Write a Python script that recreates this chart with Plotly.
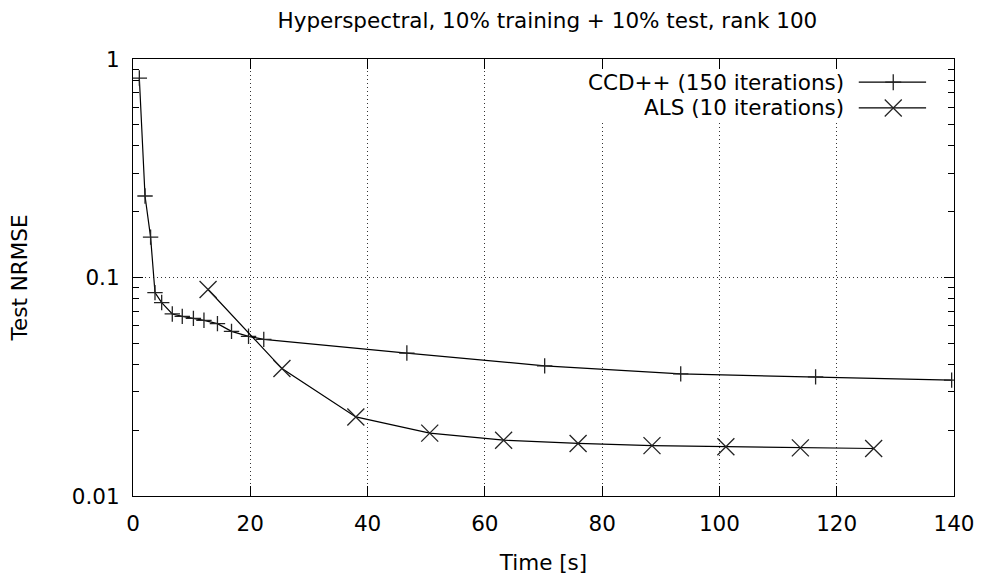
import plotly.graph_objects as go

# ---- data ----
ccd_time = [1.08, 2.05, 3.0, 3.75, 4.89, 6.7, 8.4, 10.3, 12.1, 14.4, 16.8, 19.7, 22.3,
            46.7, 70.2, 93.4, 116.4, 139.6]
ccd_nrmse = [0.818, 0.236, 0.153, 0.0853, 0.0768, 0.0681, 0.0664, 0.0650, 0.0637, 0.0615,
             0.0567, 0.0538, 0.0521, 0.0451, 0.0394, 0.0362, 0.0351, 0.0339]

als_time = [12.8, 25.4, 38.0, 50.6, 63.2, 75.9, 88.5, 101.1, 113.8, 126.3]
als_nrmse = [0.0881, 0.0383, 0.0230, 0.0194, 0.0180, 0.0174, 0.0170, 0.0168, 0.0166, 0.0165]

ccd_name = "CCD++ (150 iterations)"
als_name = "ALS (10 iterations)"
title_text = "Hyperspectral, 10% training + 10% test, rank 100"
x_title = "Time [s]"
y_title = "Test NRMSE"
x_ticks = [0, 20, 40, 60, 80, 100, 120, 140]
y_ticks = [0.01, 0.1, 1]
y_ticklabels = ["0.01", "0.1", "1"]

FONT = "DejaVu Sans"
FS = 21.5

fig = go.Figure()
fig.add_trace(go.Scatter(
    x=ccd_time, y=ccd_nrmse, mode="lines+markers", name=ccd_name,
    line=dict(color="black", width=1.2),
    marker=dict(symbol="cross-thin", size=11, color="#222",
                line=dict(color="#222", width=1.3)),
    showlegend=False))
fig.add_trace(go.Scatter(
    x=als_time, y=als_nrmse, mode="lines+markers", name=als_name,
    line=dict(color="black", width=1.2),
    marker=dict(symbol="x-thin", size=17, color="#222",
                line=dict(color="#222", width=1.3)),
    showlegend=False))

shapes = []
# legend background box (opaque, hides grid)
shapes.append(dict(type="rect", xref="paper", yref="paper", x0=0.530, x1=0.989,
                   y0=0.855, y1=0.976, fillcolor="white", line=dict(width=0),
                   layer="above"))
annotations = []
rows = [(0.947, ccd_name, "plus"), (0.888, als_name, "x")]
for ypos, label, kind in rows:
    annotations.append(dict(xref="paper", yref="paper", x=0.868, y=ypos, text=label,
                            showarrow=False, xanchor="right", yanchor="middle",
                            font=dict(family=FONT, size=FS, color="black")))
    shapes.append(dict(type="line", xref="paper", yref="paper", x0=0.884, x1=0.966,
                       y0=ypos, y1=ypos, line=dict(color="black", width=1.2),
                       layer="above"))
    if kind == "plus":
        segs = [(-8, 0, 8, 0), (0, -8, 0, 8)]
    else:
        segs = [(-8.5, -8.5, 8.5, 8.5), (-8.5, 8.5, 8.5, -8.5)]
    for (a, b, c, d) in segs:
        shapes.append(dict(type="line", xref="paper", yref="paper",
                           xsizemode="pixel", ysizemode="pixel",
                           xanchor=0.926, yanchor=ypos,
                           x0=a, y0=b, x1=c, y1=d,
                           line=dict(color="#222", width=1.3), layer="above"))

fig.update_layout(
    width=984, height=578,
    margin=dict(l=133, r=30, t=59, b=82),
    paper_bgcolor="white", plot_bgcolor="white",
    font=dict(family=FONT, size=FS, color="black"),
    title=dict(text=title_text, x=0.5563, xanchor="center", y=0.965, yanchor="middle",
               font=dict(family=FONT, size=FS, color="black")),
    shapes=shapes, annotations=annotations,
    showlegend=False,
)
fig.update_xaxes(
    range=[0, 140], tickvals=x_ticks, ticks="inside", ticklen=10, tickwidth=1,
    tickcolor="black", showline=True, linecolor="black", linewidth=1.2, mirror="allticks",
    showgrid=True, gridcolor="#333", griddash="1px,3px", gridwidth=1, zeroline=False,
    ticklabelstandoff=8, automargin=False,
    title=dict(text=x_title, font=dict(family=FONT, size=FS), standoff=20),
    tickfont=dict(family=FONT, size=FS),
)
fig.update_yaxes(
    type="log", range=[-2, 0], tickvals=y_ticks, ticktext=y_ticklabels,
    ticks="inside", ticklen=10, tickwidth=1, tickcolor="black",
    minor=dict(ticks="inside", ticklen=6, tickcolor="black", tickwidth=1, showgrid=False,
               dtick="D1"),
    showline=True, linecolor="black", linewidth=1.2, mirror="allticks",
    showgrid=True, gridcolor="#333", griddash="1px,3px", gridwidth=1, zeroline=False,
    ticklabelstandoff=8, automargin=False,
    title=dict(text=y_title, font=dict(family=FONT, size=FS), standoff=38),
    tickfont=dict(family=FONT, size=FS),
)

fig.write_html("out.html")
